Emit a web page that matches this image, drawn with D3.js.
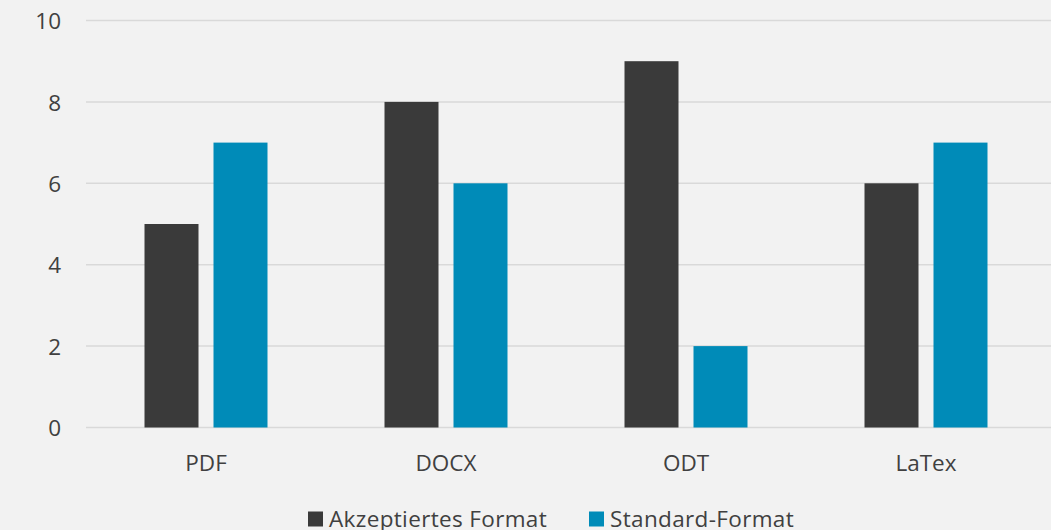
<!DOCTYPE html>
<html><head><meta charset="utf-8">
<script src="https://cdn.jsdelivr.net/npm/d3@7"></script>
<style>
html,body{margin:0;padding:0;background:#f2f2f2;}
svg{display:block;}
text{font-family:"Open Sans",Lato,sans-serif;fill:#404040;}
</style></head>
<body>
<svg id="chart" width="1051" height="530"></svg>
<script>
const categories = ["PDF","DOCX","ODT","LaTex"];
const seriesNames = ["Akzeptiertes Format","Standard-Format"];
const akzeptiert = [5,8,9,6];
const standard = [7,6,2,7];
const yTicks = [0,2,4,6,8,10];
const colors = ["#3a3a3a","#008bb8"];
const FONT = "'Open Sans', Lato, sans-serif";

const svg = d3.select("#chart");
const W = 1051, H = 530;
svg.append("rect").attr("width",W).attr("height",H).attr("fill","#f2f2f2");

const x0 = d3.scaleBand().domain(categories).range([86,1046]).padding(0);
const x1 = d3.scaleBand().domain(seriesNames).range([58.5,181.5]).paddingInner(15/69).paddingOuter(0);
const y = d3.scaleLinear().domain([0,10]).range([427.5,20.5]);

// grid
svg.append("g").selectAll("line").data(yTicks).join("line")
  .attr("x1",86).attr("x2",W).attr("y1",d=>y(d)).attr("y2",d=>y(d))
  .attr("stroke","#d9d9d9").attr("stroke-width",1.5);

// y labels
const yAxis = d3.axisLeft(y).tickValues(yTicks).tickSize(0).tickPadding(0);
const gy = svg.append("g").attr("transform","translate(61,0)").call(yAxis);
gy.select(".domain").remove();
gy.selectAll("text").attr("font-size",22.5).attr("font-family",FONT).attr("fill","#404040").attr("dy","0.36em");

// bars
const data = categories.map((c,i)=>({cat:c, vals:[{s:seriesNames[0],v:akzeptiert[i]},{s:seriesNames[1],v:standard[i]}]}));
const groups = svg.append("g").selectAll("g").data(data).join("g")
  .attr("transform",d=>`translate(${x0(d.cat)},0)`);
groups.selectAll("rect").data(d=>d.vals).join("rect")
  .attr("x",d=>x1(d.s)).attr("width",x1.bandwidth())
  .attr("y",d=>y(d.v)).attr("height",d=>y(0)-y(d.v))
  .attr("fill",(d,i)=>colors[i]);

// x labels
const xAxis = d3.axisBottom(x0).tickSize(0).tickPadding(0);
const gx = svg.append("g").attr("transform","translate(0,471)").call(xAxis);
gx.select(".domain").remove();
gx.selectAll("text").attr("font-size",22.5).attr("font-family",FONT).attr("fill","#404040").attr("dy",0);

// legend
const legendX = [308, 589];
const lg = svg.append("g").selectAll("g").data(seriesNames).join("g")
  .attr("transform",(d,i)=>`translate(${legendX[i]},0)`);
lg.append("rect").attr("x",0).attr("y",511.5).attr("width",15).attr("height",15).attr("fill",(d,i)=>colors[i]);
lg.append("text").attr("x",21).attr("y",527).attr("font-size",22.5).attr("letter-spacing","0.35px").text(d=>d);
</script>
</body></html>
